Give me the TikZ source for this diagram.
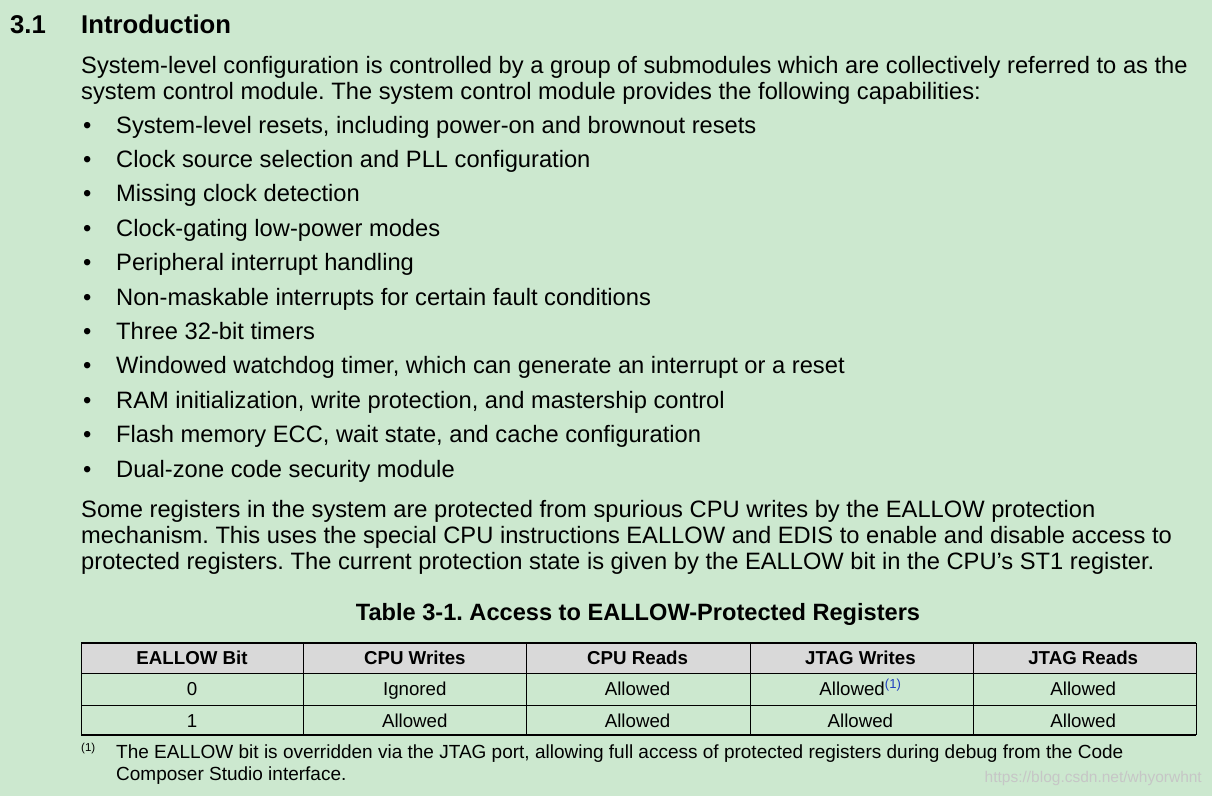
\documentclass[tikz,border=0pt]{standalone}
\usepackage{fontspec}
\setmainfont{Liberation Sans}
\frenchspacing
\usetikzlibrary{positioning}
\definecolor{pagegreen}{HTML}{CCE8CF}
\definecolor{headgray}{HTML}{D9D9D9}
\definecolor{marklink}{HTML}{1F3FBF}
\tikzset{
  body/.style={anchor=base west, inner sep=0pt, font=\fontsize{23.7}{26}\selectfont},
  cell/.style={anchor=base, inner sep=0pt, font=\fontsize{18.7}{21}\selectfont},
  headcell/.style={cell, font=\fontsize{18.7}{21}\selectfont\bfseries},
  note/.style={anchor=base west, inner sep=0pt, font=\fontsize{19}{21}\selectfont}
}
\begin{document}
\begin{tikzpicture}[x=1pt,y=-1pt]
  \fill[pagegreen] (0,0) rectangle (1212,796);
  \useasboundingbox (0,0) rectangle (1212,796);
  % heading
  \node[body, font=\fontsize{25.7}{28}\selectfont\bfseries] (secnum) at (10,33) {3.1};
  \node[body, font=\fontsize{25.7}{28}\selectfont\bfseries] (sectitle) at (81,33) {Introduction};
  % first paragraph
  \node[body] (para1a) at (81,73) {System-level configuration is controlled by a group of submodules which are collectively referred to as the};
  \node[body] (para1b) at (81,99) {system control module. The system control module provides the following capabilities:};
  % bullets
  \foreach \txt [count=\i] in {{System-level resets, including power-on and brownout resets},
      Clock source selection and PLL configuration,
      Missing clock detection,
      Clock-gating low-power modes,
      Peripheral interrupt handling,
      Non-maskable interrupts for certain fault conditions,
      Three 32-bit timers,
      {Windowed watchdog timer, which can generate an interrupt or a reset},
      {RAM initialization, write protection, and mastership control},
      {Flash memory ECC, wait state, and cache configuration},
      Dual-zone code security module} {
    \node[body] (dot\i) at (83,{133+34.4*(\i-1)}) {•};
    \node[body] (item\i) at (116,{133+34.4*(\i-1)}) {\txt};
  }
  % second paragraph
  \node[body] (para2a) at (81,517) {Some registers in the system are protected from spurious CPU writes by the EALLOW protection};
  \node[body] (para2b) at (81,543) {mechanism. This uses the special CPU instructions EALLOW and EDIS to enable and disable access to};
  \node[body] (para2c) at (81,569) {protected registers. The current protection state is given by the EALLOW bit in the CPU\char39 s ST1 register.};
  % table
  \node[anchor=base, inner sep=0pt, font=\fontsize{23.6}{26}\selectfont\bfseries] (tabtitle) at (638,620) {Table 3-1. Access to EALLOW-Protected Registers};
  \fill[headgray] (81,643) rectangle (1196,673);
  \draw[line width=1.6pt] (81,643) -- (1196,643);
  \draw[line width=0.8pt] (81,673) -- (1196,673) (81,705) -- (1196,705);
  \draw[line width=1.6pt] (81,735) -- (1196,735);
  \foreach \x in {81,303,526,750,973,1196}
    \draw[line width=0.8pt] (\x,643) -- (\x,735);
  \foreach \txt [count=\i] in {EALLOW Bit,CPU Writes,CPU Reads,JTAG Writes,JTAG Reads}
    \node[headcell] (head\i) at ({192+222.8*(\i-1)},664) {\txt};
  \foreach \txt [count=\i] in {0,Ignored,Allowed,Allowed\textsuperscript{\color{marklink}(1)},Allowed}
    \node[cell] (rowa\i) at ({192+222.8*(\i-1)},695) {\txt};
  \foreach \txt [count=\i] in {1,Allowed,Allowed,Allowed,Allowed}
    \node[cell] (rowb\i) at ({192+222.8*(\i-1)},727) {\txt};
  % footnote
  \node[note, font=\fontsize{11.5}{13}\selectfont] (fnmark) at (81,751) {(1)};
  \node[note] (fna) at (116,758) {The EALLOW bit is overridden via the JTAG port, allowing full access of protected registers during debug from the Code};
  \node[note] (fnb) at (116,780) {Composer Studio interface.};
  \node[anchor=base east, inner sep=0pt, text=white!55!gray, font=\fontsize{15.5}{18}\selectfont] (mark) at (1202,782) {https://blog.csdn.net/whyorwhnt};
\end{tikzpicture}
\end{document}
